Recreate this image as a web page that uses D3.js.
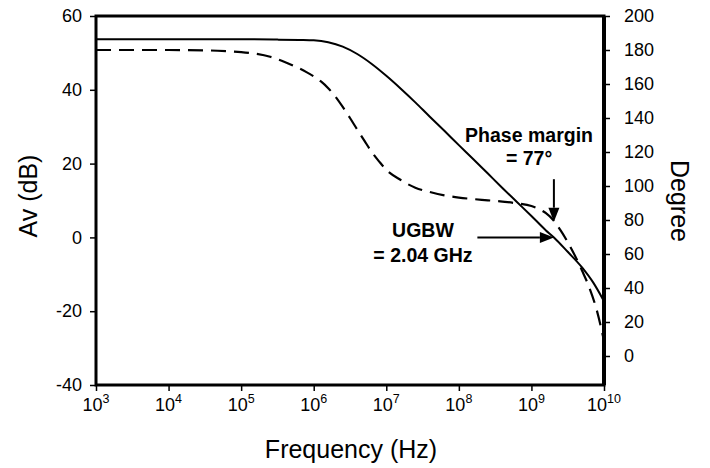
<!DOCTYPE html>
<html><head><meta charset="utf-8">
<script src="https://cdn.jsdelivr.net/npm/d3@7/dist/d3.min.js"></script>
<style>
body{margin:0;background:#fff}
svg{display:block}
text{font-family:"Liberation Sans",Arial,Helvetica,sans-serif;fill:#000}
</style>
</head><body>
<svg id="c" width="710" height="468"></svg>
<script>
// ---- data ----
const freqTickExponents = [3, 4, 5, 6, 7, 8, 9, 10];
const gainTicks = [-40, -20, 0, 20, 40, 60];
const phaseTicks = [0, 20, 40, 60, 80, 100, 120, 140, 160, 180, 200];

// Gain (solid, left axis, dB) — frequencies given as log10(Hz)
const gainLogF = [3.0, 4.0, 5.0, 5.5, 5.8, 6.0, 6.2, 6.4, 6.6, 6.8, 7.0, 7.2, 7.4, 7.6, 7.8, 8.0, 8.2, 8.4, 8.6, 8.8, 9.0, 9.2, 9.31, 9.5, 9.7, 9.85, 10.0];
const gainDb   = [53.7, 53.7, 53.7, 53.6, 53.5, 53.4, 52.9, 51.7, 49.7, 47.0, 43.8, 40.3, 36.6, 32.7, 28.9, 25.0, 21.2, 17.3, 13.4, 9.6, 5.8, 1.9, 0.0, -3.9, -8.2, -12.2, -17.3];

// Phase (dashed, right axis, degrees)
const phaseLogF = [3.0, 4.0, 4.5, 4.8, 5.0, 5.2, 5.4, 5.6, 5.8, 5.9, 6.0, 6.1, 6.2, 6.3, 6.4, 6.5, 6.6, 6.7, 6.8, 6.9, 7.0, 7.2, 7.4, 7.6, 7.8, 8.0, 8.2, 8.4, 8.6, 8.8, 9.0, 9.1, 9.2, 9.3, 9.4, 9.5, 9.6, 9.7, 9.8, 9.9, 10.0];
const phaseDeg  = [180, 180, 179.8, 179.3, 178.8, 177.8, 176, 173, 169.2, 167, 164.5, 161.5, 157.5, 152.5, 146.5, 140, 133.2, 126.5, 120, 114.5, 109.5, 103.5, 99, 96.5, 94.5, 93.2, 92.3, 91.6, 90.8, 89.8, 88.2, 86.5, 84, 80, 74, 67, 59, 50, 40, 27, 9];

// Annotations
const ugbwHz = 2.04e9;
const phaseMarginTipDeg = 79;
const phaseArrowTopDeg = 104;
const ugbwArrowTailHz = 1.8e8;
const pmLabel = ["Phase margin", "= 77\u00B0"];
const ugbwLabel = ["UGBW", "= 2.04 GHz"];
const pmLabelHz = 9.27e8, pmLabelDb = 25.85;
const ugbwLabelHz = 3.2e7, ugbwLabelDb = 0.1;

// ---- layout ----
const L = 96, R = 604, T = 16, B = 385;
const svg = d3.select("#c");

const x = d3.scaleLog().domain([1e3, 1e10]).range([L, R]);
const yL = d3.scaleLinear().domain([-40, 60]).range([B, T]);
const yR = d3.scaleLinear().domain([-17.06, 200]).range([B, T]);

svg.append("defs").append("clipPath").attr("id", "clip")
  .append("rect").attr("x", L).attr("y", T).attr("width", R - L).attr("height", B - T);

// axes
const fmt = d => String(d);
const axL = svg.append("g").attr("transform", `translate(${L},0)`)
  .call(d3.axisLeft(yL).tickValues(gainTicks).tickSize(6).tickPadding(8).tickFormat(fmt));
const axR = svg.append("g").attr("transform", `translate(${R},0)`)
  .call(d3.axisRight(yR).tickValues(phaseTicks).tickSize(6).tickPadding(14).tickFormat(fmt));
const axB = svg.append("g").attr("transform", `translate(0,${B})`)
  .call(d3.axisBottom(x).tickValues(freqTickExponents.map(e => Math.pow(10, e))).tickSize(6).tickFormat(""));

[axL, axR, axB].forEach(a => {
  a.select(".domain").remove();
  a.selectAll(".tick line").attr("stroke", "#000").attr("stroke-width", 1.5);
  a.selectAll(".tick text").attr("font-size", 18).attr("fill", "#000")
    .style("font-family", '"Liberation Sans",Arial,sans-serif');
});

// bottom tick labels with superscripts
const bl = svg.append("g").selectAll("text").data(freqTickExponents).join("text")
  .attr("x", d => x(Math.pow(10, d)))
  .attr("y", B + 26)
  .attr("text-anchor", "middle")
  .attr("font-size", 18);
bl.append("tspan").text("10");
bl.append("tspan").attr("dy", -8).attr("font-size", 12.5).text(d => d);

// frame
svg.append("rect").attr("x", L).attr("y", T).attr("width", R - L).attr("height", B - T)
  .attr("fill", "none").attr("stroke", "#000").attr("stroke-width", 3);
svg.append("line").attr("x1", R).attr("x2", R).attr("y1", T).attr("y2", B)
  .attr("stroke", "#000").attr("stroke-width", 4);

// curves
const gainLine = d3.line().x(d => x(Math.pow(10, d[0]))).y(d => yL(d[1])).curve(d3.curveMonotoneX);
const phaseLine = d3.line().x(d => x(Math.pow(10, d[0]))).y(d => yR(d[1])).curve(d3.curveMonotoneX);
const cg = svg.append("g").attr("clip-path", "url(#clip)");
cg.append("path").datum(gainLogF.map((f, i) => [f, gainDb[i]]))
  .attr("d", gainLine).attr("fill", "none").attr("stroke", "#000").attr("stroke-width", 2);
cg.append("path").datum(phaseLogF.map((f, i) => [f, phaseDeg[i]]))
  .attr("d", phaseLine).attr("fill", "none").attr("stroke", "#000").attr("stroke-width", 2.2)
  .attr("stroke-dasharray", "15,8");

// arrows
function arrow(x1, y1, x2, y2) {
  const g = svg.append("g");
  const ang = Math.atan2(y2 - y1, x2 - x1);
  const hl = 14, hw = 5.5;
  const bx = x2 - hl * Math.cos(ang), by = y2 - hl * Math.sin(ang);
  g.append("line").attr("x1", x1).attr("y1", y1).attr("x2", bx).attr("y2", by)
    .attr("stroke", "#000").attr("stroke-width", 2);
  const px = -Math.sin(ang) * hw, py = Math.cos(ang) * hw;
  g.append("path").attr("d", `M${x2},${y2}L${bx + px},${by + py}L${bx - px},${by - py}Z`).attr("fill", "#000");
}
arrow(x(ugbwHz), yR(phaseArrowTopDeg), x(ugbwHz), yR(phaseMarginTipDeg));
arrow(x(ugbwArrowTailHz), yL(0), x(ugbwHz), yL(0));

// annotation labels
function label(lines, cx, cy, gap) {
  svg.append("g").selectAll("text").data(lines).join("text")
    .attr("x", cx).attr("y", (d, i) => cy + i * gap)
    .attr("text-anchor", "middle").attr("font-size", 19.5).attr("font-weight", "bold")
    .text(d => d);
}
label(pmLabel, x(pmLabelHz), yL(pmLabelDb), 23);
label(ugbwLabel, x(ugbwLabelHz), yL(ugbwLabelDb), 25);

// axis titles
svg.append("text").attr("transform", `translate(37,196) rotate(-90)`)
  .attr("text-anchor", "middle").attr("font-size", 25).text("Av (dB)");
svg.append("text").attr("transform", `translate(671,201) rotate(90)`)
  .attr("text-anchor", "middle").attr("font-size", 25).text("Degree");
svg.append("text").attr("x", 351).attr("y", 458)
  .attr("text-anchor", "middle").attr("font-size", 25).text("Frequency (Hz)");
</script>
</body></html>
